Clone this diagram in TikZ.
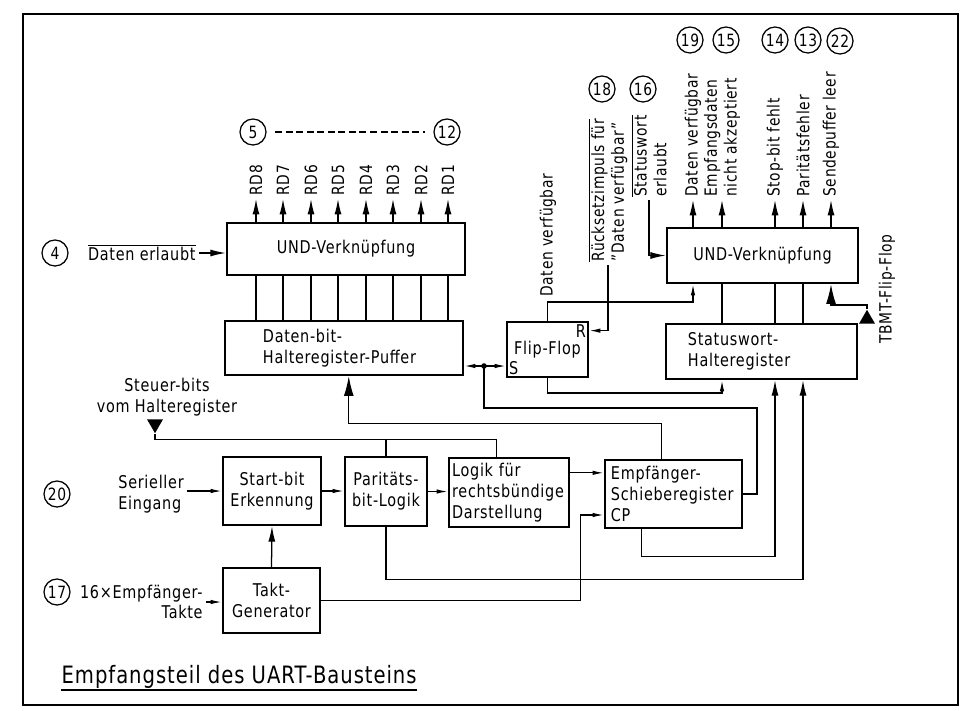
\documentclass[tikz,border=0pt]{standalone}
\usepackage{fontspec}
\setmainfont{DejaVu Sans}[FakeStretch=0.82, LetterSpace=4]
\usetikzlibrary{shapes.geometric, arrows.meta, positioning, calc}

\begin{document}
\begin{tikzpicture}[
  x=0.025cm, y=-0.025cm, line width=0.9pt,
  font=\fontsize{12.5}{14.5}\selectfont,
  blk/.style 2 args={draw, line width=1.7pt, minimum width=#1, minimum height=#2,
              align=center, font=\fontsize{12.5}{15}\selectfont},
  vlbl/.style={rotate=90, anchor=west, align=left, inner sep=2pt,
               font=\fontsize{12}{14}\selectfont},
  lbl/.style={inner sep=2pt},
  num/.style={circle, draw, minimum size=0.65cm, inner sep=0pt, font=\fontsize{12}{12}\selectfont},
  tri/.style={regular polygon, regular polygon sides=3, fill, inner sep=0pt, minimum size=0.46cm},
  arr/.style={-{Latex[length=8pt,width=3.2pt]}},
  oarr/.style={-{Latex[length=11pt,width=5pt]}},
  bigarr/.style={-{Latex[length=14pt,width=7pt]}}
]
\useasboundingbox (0,0) rectangle (962,711);
\draw[line width=1.3pt] (23,14) rectangle (958,705);

\node[num] (c5)  at (253,132) {5};
\node[num] (c12) at (447,132) {12};
\node[num] (c4)  at (55,253)  {4};
\node[num] (c18) at (602,89)  {18};
\node[num] (c16) at (643,89)  {16};
\node[num] (c19) at (690,40)  {19};
\node[num] (c15) at (726,40)  {15};
\node[num] (c14) at (775,40)  {14};
\node[num] (c13) at (808,40)  {13};
\node[num] (c22) at (840,41)  {22};
\node[num] (c20) at (57,494)  {20};
\node[num] (c17) at (57,592)  {17};

\node[blk={5.95cm}{1.3cm}] (und1) at (346,249) {UND-Verknüpfung};
\node[blk={5.95cm}{1.35cm}, align=left, text width=4.05cm, inner xsep=0.95cm] (puffer) at (344,348)
  {Daten-bit-\\Halteregister-Puffer};
\node[blk={2.025cm}{1.375cm}, label={[anchor=north east, inner sep=2pt]north east:R},
      label={[anchor=south west, inner sep=2pt]south west:S}] (ff) at (547.5,349.5) {Flip-Flop};
\node[blk={4.775cm}{1.375cm}] (und2) at (762.5,255.5) {UND-Verknüpfung};
\node[blk={4.775cm}{1.375cm}, align=left, text width=3.675cm, inner xsep=0.55cm] (status) at (761.5,351.5)
  {Statuswort-\\Halteregister};
\node[blk={2.45cm}{1.7cm}] (start) at (272,491) {Start-bit\\Erkennung};
\node[blk={2.05cm}{1.725cm}] (par) at (386,491.5) {Paritäts-\\bit-Logik};
\node[blk={3cm}{1.725cm}, align=left, text width=2.84cm, inner xsep=0.08cm] (logik) at (509,492.5)
  {Logik für\\rechtsbündige\\Darstellung};
\node[blk={3.425cm}{1.7cm}, align=left, text width=3.125cm, inner xsep=0.15cm] (empf) at (673.5,494)
  {Empfänger-\\Schieberegister\\CP};
\node[blk={2.425cm}{1.625cm}] (takt) at (271.5,600.5) {Takt-\\Generator};

\node[vlbl] (rd8) at (256,199) {RD8};
\node[vlbl] (rd7) at (283,199) {RD7};
\node[vlbl] (rd6) at (311,199) {RD6};
\node[vlbl] (rd5) at (338,199) {RD5};
\node[vlbl] (rd4) at (366,199) {RD4};
\node[vlbl] (rd3) at (393,199) {RD3};
\node[vlbl] (rd2) at (421,199) {RD2};
\node[vlbl] (rd1) at (448,199) {RD1};

\node[vlbl] (o19) at (693,200) {Daten verfügbar};
\node[vlbl] (o15) at (722,200) {Empfangsdaten\\nicht akzeptiert};
\node[vlbl] (o14) at (775,200) {Stop-bit fehlt};
\node[vlbl] (o13) at (803,200) {Paritätsfehler};
\node[vlbl] (o22) at (831,200) {Sendepuffer leer};

\node[vlbl] (qlab) at (548,300) {Daten verfügbar};
\node[vlbl] (rlab) at (608,265) {$\overline{\mbox{Rücksetzimpuls für}}$\\"Daten verfügbar"};
\node[vlbl] (slab) at (649,200) {$\overline{\mbox{Statuswort}}$\\erlaubt};
\node[vlbl, anchor=center] (tbmt) at (887,289) {TBMT-Flip-Flop};

\node[lbl, anchor=east] (den) at (199,253) {$\overline{\mbox{Daten erlaubt}}$};
\node[lbl, align=center] (steu) at (167,397) {Steuer-bits\\vom Halteregister};
\node[lbl, anchor=west, align=left] (ser) at (115,494) {Serieller\\Eingang};
\node[lbl, anchor=east, align=right] (tin) at (206,602) {16×Empfänger-\\Takte};
\node[anchor=base west, inner sep=0pt, font=\fontsize{17}{20}\selectfont] (title) at (61,683)
  {Empfangsteil des UART-Bausteins};
\draw[line width=1.6pt] ([yshift=-1pt]title.south west) -- ([yshift=-1pt]title.south east);

\node[tri, shape border rotate=180] (sbtri) at (155,424) {};
\node[tri] (ttri) at (867,319) {};

\draw[dash pattern=on 5pt off 2.5pt, shorten <=6pt, shorten >=6pt] (c5) -- (c12);
\draw[oarr] (den.east) -- (den.east -| und1.west);

\draw[oarr] (rd8.west |- und1.north) -- (rd8.west);
\draw[oarr] (rd7.west |- und1.north) -- (rd7.west);
\draw[oarr] (rd6.west |- und1.north) -- (rd6.west);
\draw[oarr] (rd5.west |- und1.north) -- (rd5.west);
\draw[oarr] (rd4.west |- und1.north) -- (rd4.west);
\draw[oarr] (rd3.west |- und1.north) -- (rd3.west);
\draw[oarr] (rd2.west |- und1.north) -- (rd2.west);
\draw[oarr] (rd1.west |- und1.north) -- (rd1.west);
\draw (rd8.west |- und1.south) -- (rd8.west |- puffer.north);
\draw (rd7.west |- und1.south) -- (rd7.west |- puffer.north);
\draw (rd6.west |- und1.south) -- (rd6.west |- puffer.north);
\draw (rd5.west |- und1.south) -- (rd5.west |- puffer.north);
\draw (rd4.west |- und1.south) -- (rd4.west |- puffer.north);
\draw (rd3.west |- und1.south) -- (rd3.west |- puffer.north);
\draw (rd2.west |- und1.south) -- (rd2.west |- puffer.north);
\draw (rd1.west |- und1.south) -- (rd1.west |- puffer.north);

\draw[oarr] (o19.west |- und2.north) -- (o19.west);
\draw[oarr] (o15.west |- und2.north) -- (o15.west);
\draw[oarr] (o14.west |- und2.north) -- (o14.west);
\draw[oarr] (o13.west |- und2.north) -- (o13.west);
\draw[oarr] (o22.west |- und2.north) -- (o22.west);
\draw (o15.west |- status.north) -- (o15.west |- und2.south);
\draw (o14.west |- status.north) -- (o14.west |- und2.south);
\draw (o13.west |- status.north) -- (o13.west |- und2.south);

\draw[arr] (ff.north) -- (ff.north |- 0,302) -| (o19.west |- und2.south);
\draw[arr] (rlab.west) |- ([yshift=-7pt]ff.north east);
\draw[oarr] (slab.west) |- (und2.west);
\draw[bigarr] (ttri.corner 1) -- (ttri.corner 1 |- 0,305) -| (o22.west |- und2.south);

\coordinate (dot) at (484,366);
\coordinate (bus) at (757,408);
\draw (empf.east) -| (bus) -| (dot);
\draw[arr] (dot) -- (dot -| puffer.east);
\draw[arr] (dot) -- (dot -| ff.west);
\fill (dot) circle (2pt);

\draw[arr] (ff.south) -- (ff.south |- 0,393) -| (o15.west |- status.south);
\draw[oarr] ($(empf.south west)+(38,0)$) -- ++(0,27) -| (o14.west |- status.south);
\draw[oarr] (par.south) -- ++(0,52) -| (o13.west |- status.south);
\draw[arr] (takt.east) -| ($(empf.west)+(-23,21)$) -- ($(empf.west)+(0,21)$);

\draw[oarr] (takt.north) -- (start.south);
\draw[arr] (tin.east) -- (tin.east -| takt.west);
\draw[arr] (start.west -| ser.east) -- (start.west);
\draw[arr] (start.east) -- (start.east -| par.west);
\draw[arr] (par.east) -- (par.east -| logik.west);
\draw[arr] ([yshift=14pt]logik.east) -- ([yshift=14pt]logik.east -| empf.west);

\draw (sbtri.corner 1) |- ($(logik.north west)+(49,-17)$) -- ($(logik.north west)+(49,0)$);
\draw (par.north) -- ++(0,-16);
\draw[bigarr] ($(empf.north west)+(58,0)$) -- ++(0,-35) -| ($(puffer.south west)+(125,0)$);
\end{tikzpicture}
\end{document}
